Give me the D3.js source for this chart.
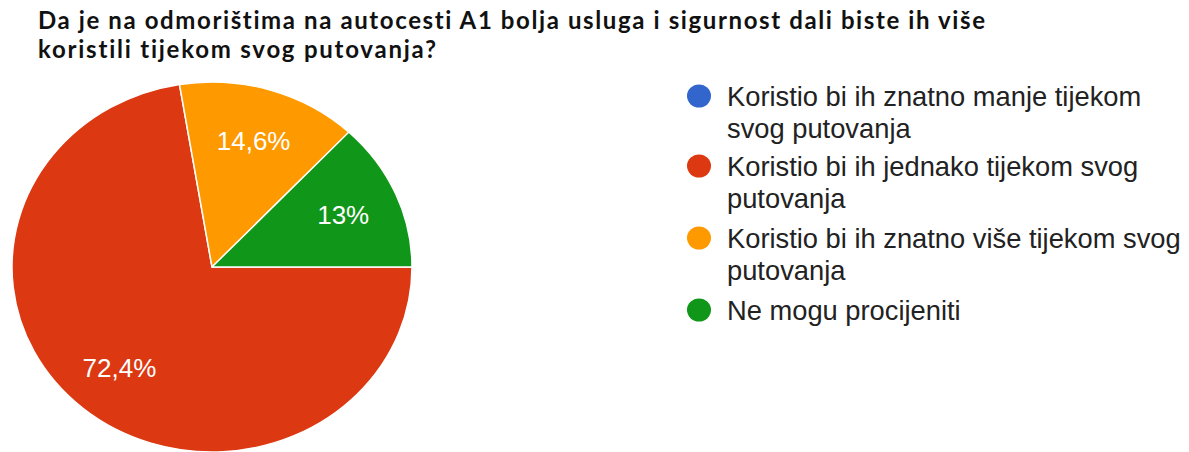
<!DOCTYPE html>
<html>
<head>
<meta charset="utf-8">
<script src="https://cdn.jsdelivr.net/npm/d3@7"></script>
<style>
  html, body { margin: 0; padding: 0; background: #fff; }
  svg { display: block; }
  text { font-variant-ligatures: none; }
</style>
</head>
<body>
<svg id="chart" width="1189" height="452"></svg>
<script>
// Survey answers and their shares (%)
const categories = [
  "Koristio bi ih znatno manje tijekom svog putovanja",
  "Koristio bi ih jednako tijekom svog putovanja",
  "Koristio bi ih znatno više tijekom svog putovanja",
  "Ne mogu procijeniti"
];
const values = [0, 72.4, 14.6, 13];
const valueLabels = ["0%", "72,4%", "14,6%", "13%"];
// Legend text broken into lines as displayed
const legendLines = [
  ["Koristio bi ih znatno manje tijekom", "svog putovanja"],
  ["Koristio bi ih jednako tijekom svog", "putovanja"],
  ["Koristio bi ih znatno više tijekom svog", "putovanja"],
  ["Ne mogu procijeniti"]
];
const colors = ["#3366cc", "#dc3912", "#ff9900", "#109618"];
const titleLines = [
  "Da je na odmorištima na autocesti A1 bolja usluga i sigurnost dali biste ih više",
  "koristili tijekom svog putovanja?"
];

const svg = d3.select("#chart");

// Title
const title = svg.append("g")
  .attr("font-family", "Lato, 'Open Sans', sans-serif")
  .attr("font-weight", "bold")
  .attr("font-size", 24)
  .attr("fill", "#111");
const titleWidths = [947, 398];
titleLines.forEach((t, i) => {
  title.append("text")
    .attr("x", 38)
    .attr("y", 29 + i * 29)
    .attr("textLength", titleWidths[i])
    .attr("lengthAdjust", "spacing")
    .text(t);
});

// Pie (drawn slightly flattened vertically)
const cx = 212, cy = 267, r = 200, sy = 0.925;
const data = categories.map((c, i) => ({ name: c, value: values[i], label: valueLabels[i], color: colors[i] }));

const pie = d3.pie()
  .value(d => d.value)
  .sort(null)
  .startAngle(Math.PI / 2)
  .endAngle(Math.PI / 2 + 2 * Math.PI);

const arcs = pie(data);
const arc = d3.arc().innerRadius(0).outerRadius(r);
const labelArc = d3.arc().innerRadius(143).outerRadius(143);

const pieG = svg.append("g")
  .attr("transform", `translate(${cx},${cy}) scale(1,${sy})`);

pieG.selectAll("path")
  .data(arcs.filter(a => a.data.value > 0))
  .join("path")
  .attr("d", arc)
  .attr("fill", d => d.data.color)
  .attr("stroke", "#fff")
  .attr("stroke-width", 1.5)
  .attr("stroke-linejoin", "round");

svg.append("g")
  .selectAll("text")
  .data(arcs.filter(a => a.data.value > 0))
  .join("text")
  .attr("x", d => cx + labelArc.centroid(d)[0])
  .attr("y", d => cy + labelArc.centroid(d)[1] * sy)
  .attr("dy", "0.36em")
  .attr("text-anchor", "middle")
  .attr("font-family", "'Liberation Sans', Arial, sans-serif")
  .attr("font-size", 26)
  .attr("fill", "#fff")
  .text(d => d.data.label);

// Legend
const legend = svg.append("g")
  .attr("font-family", "'Liberation Sans', Arial, sans-serif")
  .attr("font-size", 27.3)
  .attr("fill", "#222");

const itemY = [96, 166, 238, 310];
legendLines.forEach((lines, i) => {
  legend.append("ellipse")
    .attr("cx", 699)
    .attr("cy", itemY[i])
    .attr("rx", 12)
    .attr("ry", 11.5)
    .attr("fill", colors[i]);
  lines.forEach((ln, j) => {
    legend.append("text")
      .attr("x", 727)
      .attr("y", itemY[i] + 9.5 + j * 32)
      .text(ln);
  });
});
</script>
</body>
</html>
